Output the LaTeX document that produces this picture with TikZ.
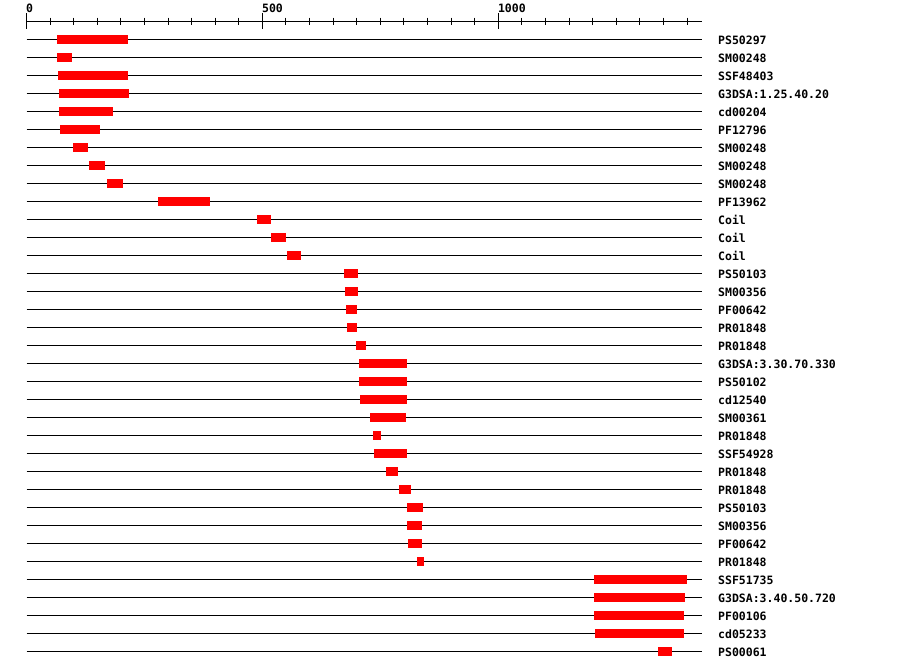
\documentclass[tikz,border=0pt]{standalone}
\usepackage{fontspec}
\newfontfamily\monob{DejaVu Sans Mono}[BoldFont=* Bold]
\begin{document}
\begin{tikzpicture}[x=1pt,y=-1pt,
  rowline/.style={line width=1pt,black},
  feat/.style={fill=red,draw=none},
  featlabel/.style={anchor=base west,inner sep=0pt,font=\monob\bfseries\fontsize{11.5}{12}\selectfont},
  axislabel/.style={anchor=base west,inner sep=0pt,font=\monob\bfseries\fontsize{11.5}{12}\selectfont},
  tick/.style={line width=1pt,black}]
\useasboundingbox[fill=white] (0,0) rectangle (900,670);
% axis
\draw[tick] (26.5,21.5) -- (701.7,21.5);
\foreach \v in {0,50,...,1400}{
  \pgfmathsetmacro{\px}{26.5+0.4718*\v}
  \draw[tick] (\px,17.5) -- (\px,24.5);
}
\foreach \v in {0,500,1000}{
  \pgfmathsetmacro{\px}{26.5+0.4718*\v}
  \draw[tick] (\px,13) -- (\px,29);
  \node[axislabel] (ax\v) at (\px-0.5,12) {\v};
}
% rows
\foreach \i/\a/\b/\lab in {
 0/57/128/PS50297,
 1/57/72/SM00248,
 2/58/128/SSF48403,
 3/59/129/G3DSA:1.25.40.20,
 4/59/113/cd00204,
 5/60/100/PF12796,
 6/73/88/SM00248,
 7/89/105/SM00248,
 8/107/123/SM00248,
 9/158/210/PF13962,
 10/257/271/Coil,
 11/271/286/Coil,
 12/287/301/Coil,
 13/344/358/PS50103,
 14/345/358/SM00356,
 15/346/357/PF00642,
 16/347/357/PR01848,
 17/356/366/PR01848,
 18/359/407/G3DSA:3.30.70.330,
 19/359/407/PS50102,
 20/360/407/cd12540,
 21/370/406/SM00361,
 22/373/381/PR01848,
 23/374/407/SSF54928,
 24/386/398/PR01848,
 25/399/411/PR01848,
 26/407/423/PS50103,
 27/407/422/SM00356,
 28/408/422/PF00642,
 29/417/424/PR01848,
 30/594/687/SSF51735,
 31/594/685/G3DSA:3.40.50.720,
 32/594/684/PF00106,
 33/595/684/cd05233,
 34/658/672/PS00061}{
  \pgfmathsetmacro{\yy}{39.5+18*\i}
  \draw[rowline] (26.5,\yy) -- (701.7,\yy);
  \fill[feat] (\a,\yy-4.5) rectangle (\b,\yy+4.5);
  \node[featlabel] (lab\i) at (718,\yy+4.5) {\lab};
}
\end{tikzpicture}
\end{document}
